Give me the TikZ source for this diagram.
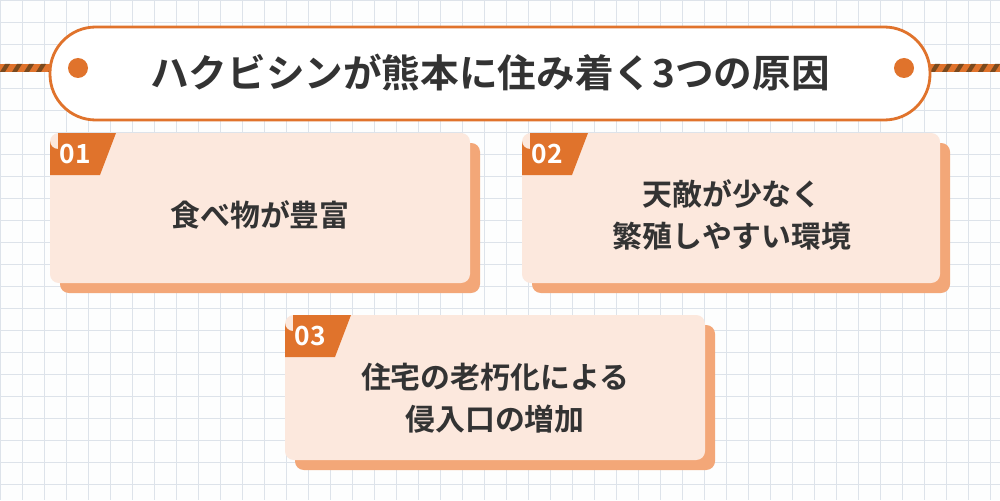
\documentclass[tikz,border=0pt]{standalone}
\usepackage{fontspec}
\setmainfont{Noto Sans CJK JP}[BoldFont={Noto Sans CJK JP Bold}]
\usepackage{tikz}
\definecolor{accent}{HTML}{E0732C}
\definecolor{rope}{HTML}{7A4A1E}
\definecolor{facecol}{HTML}{FCE8DD}
\definecolor{shadecol}{HTML}{F3A778}
\definecolor{inkcol}{HTML}{333333}
\definecolor{gridcol}{HTML}{DDE3EA}
\def\card#1#2#3#4#5{%
  \fill[shadecol, rounded corners=5pt] (#1+10,#2+10) rectangle (#3+10,#4+10);
  \fill[facecol, rounded corners=5pt] (#1,#2) rectangle (#3,#4);
  \fill[accent] (#1+8,#2) -- (#1+66,#2) -- (#1+50,#2+42) -- (#1,#2+42) -- (#1,#2+8) arc[start angle=180,end angle=90,radius=8] -- cycle;
  \node[tag] at (#1+25,#2+21) {#5};}
\begin{document}
\begin{tikzpicture}[x=0.02cm, y=-0.02cm,
  tag/.style={text=white, font=\bfseries\fontsize{15}{15}\selectfont},
  body/.style={text=inkcol, font=\bfseries\fontsize{17}{24}\selectfont, align=center}]
  \useasboundingbox (0,0) rectangle (1000,500);
  \fill[white!95!gridcol] (0,0) rectangle (1000,500);
  \foreach \g in {0,22,...,1000}{
    \draw[gridcol, line width=0.4pt] (\g,0) -- (\g,500);
  }
  \foreach \g in {0,22,...,500}{
    \draw[gridcol, line width=0.4pt] (0,\g) -- (1000,\g);
  }
  % rope
  \foreach \s in {0,930}{
    \fill[accent] (\s,64) rectangle (\s+70,72);
    \foreach \k in {0,12,...,60}{
      \fill[rope] (\s+\k,72) -- (\s+\k+5,64) -- (\s+\k+10,64) -- (\s+\k+5,72) -- cycle;
    }
  }
  % title
  \draw[accent, fill=white, line width=1.6pt, rounded corners=26pt] (50,27) rectangle (930,120);
  \fill[accent] (78,68) circle (10);
  \fill[accent] (904,68) circle (10);
  \node[text=inkcol, font=\bfseries\fontsize{22}{22}\selectfont] (title) at (490,73) {ハクビシンが熊本に住み着く3つの原因};
  % cards
  \card{50}{133}{470}{283}{01}
  \card{522}{133}{940}{283}{02}
  \card{285}{315}{705}{460}{03}
  \node[body] (food) at (260,215) {食べ物が豊富};
  \node[body] (enemy) at (732,215) {天敵が少なく\\繁殖しやすい環境};
  \node[body] (house) at (495,398) {住宅の老朽化による\\侵入口の増加};
\end{tikzpicture}
\end{document}
